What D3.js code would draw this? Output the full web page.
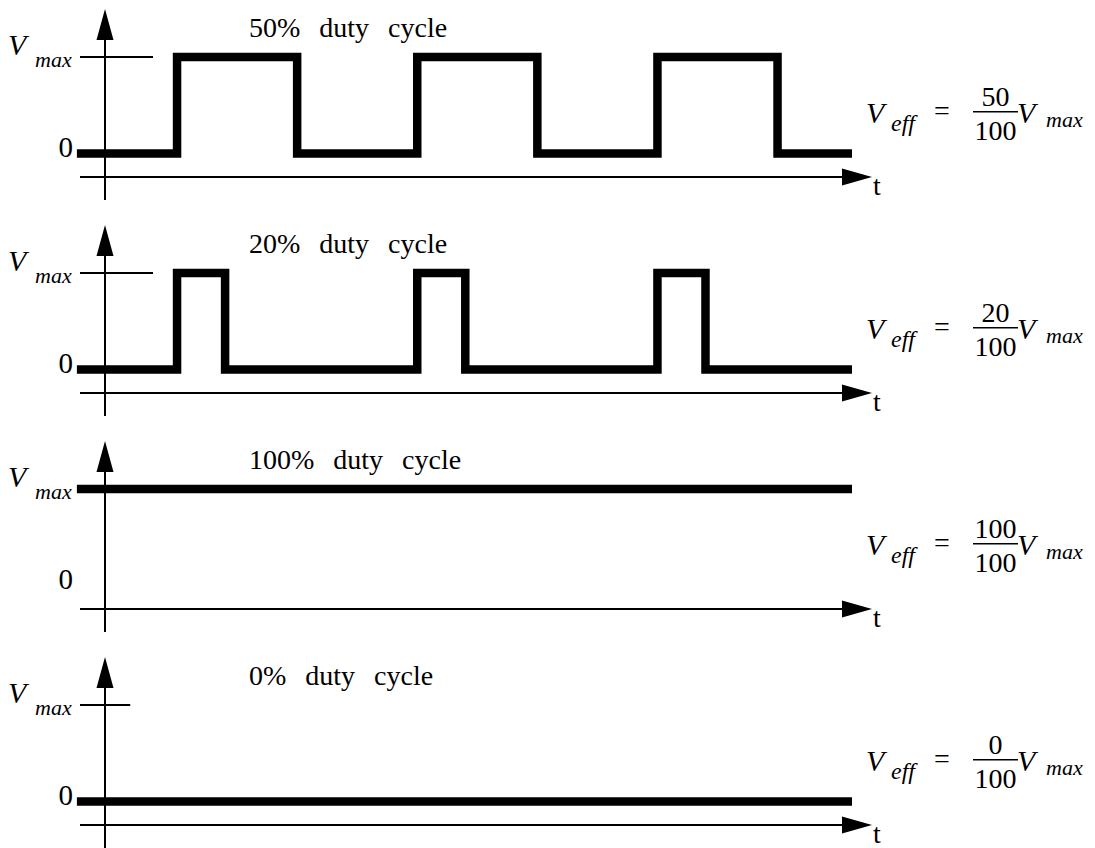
<!DOCTYPE html>
<html>
<head>
<meta charset="utf-8">
<script src="https://cdn.jsdelivr.net/npm/d3@7"></script>
<style>
  html, body { margin: 0; padding: 0; background: #fff; }
  svg { display: block; }
  text { font-family: "Liberation Serif", "Times New Roman", Times, serif; fill: #000; }
</style>
</head>
<body>
<svg id="chart" width="1095" height="848"></svg>
<script>
// ---- data ----
const dutyCycles = [50, 20, 100, 0];
const titles = ["50% duty cycle", "20% duty cycle", "100% duty cycle", "0% duty cycle"];
// switching instants (time units, period = 10) for each panel
const edgeTimes = [
  [3, 8, 13, 18, 23, 28],
  [3, 5, 13, 15, 23, 25],
  [],
  []
];
const startLevels = [0, 0, 1, 0];           // 0 = "0", 1 = "Vmax"
const numerators = ["50", "20", "100", "0"];
const denominator = "100";
const yTickLabels = ["0", "V", "max"];
const timeLabel = "t";
const signalSpan = [-1.17, 31.1];            // time extent of the waveform

// ---- layout ----
const panelStep = 216;
const tickEndT = [2, 2, 2, 1.05];
const svg = d3.select("#chart");

const x = d3.scaleLinear().domain([0, 31.1]).range([105, 852]);

dutyCycles.forEach((duty, i) => {
  const o = i * panelStep;
  const y = d3.scaleLinear().domain([0, 1]).range([153.5 + o, 57 + o]);
  const axisY = 177 + o;
  const g = svg.append("g");

  // Vmax reference tick
  g.append("line")
    .attr("x1", x(-1.04)).attr("x2", x(tickEndT[i]))
    .attr("y1", y(1)).attr("y2", y(1))
    .attr("stroke", "#000").attr("stroke-width", 2);

  // horizontal time axis with arrow
  const tipX = 872, arrowLen = 30, arrowHalf = 8.5;
  g.append("line")
    .attr("x1", x(-1.04)).attr("x2", tipX - arrowLen + 2)
    .attr("y1", axisY).attr("y2", axisY)
    .attr("stroke", "#000").attr("stroke-width", 2);
  g.append("path")
    .attr("d", `M${tipX},${axisY} L${tipX - arrowLen},${axisY - arrowHalf} L${tipX - arrowLen},${axisY + arrowHalf} Z`)
    .attr("fill", "#000");

  // vertical axis with arrow
  const vx = x(0), tipY = 9 + o;
  g.append("line")
    .attr("x1", vx).attr("x2", vx)
    .attr("y1", 200 + o).attr("y2", tipY + arrowLen - 2)
    .attr("stroke", "#000").attr("stroke-width", 2);
  g.append("path")
    .attr("d", `M${vx},${tipY} L${vx - arrowHalf},${tipY + arrowLen + 1} L${vx + arrowHalf},${tipY + arrowLen + 1} Z`)
    .attr("fill", "#000");

  // waveform
  let level = startLevels[i];
  const pts = [[signalSpan[0], level]];
  edgeTimes[i].forEach(t => {
    pts.push([t, level]);
    level = 1 - level;
    pts.push([t, level]);
  });
  pts.push([signalSpan[1], level]);
  const line = d3.line().x(d => x(d[0])).y(d => y(d[1]));
  g.append("path")
    .attr("d", line(pts))
    .attr("fill", "none").attr("stroke", "#000")
    .attr("stroke-width", 8.5)
    .attr("stroke-linejoin", "miter").attr("stroke-linecap", "butt");

  // y labels
  g.append("text").attr("x", 73).attr("y", y(0) + 3.5)
    .attr("text-anchor", "end").attr("font-size", 29).text(yTickLabels[0]);
  g.append("text").attr("x", 8).attr("y", y(1) - 2.5)
    .attr("font-size", 30).attr("font-style", "italic").text(yTickLabels[1]);
  g.append("text").attr("x", 35).attr("y", y(1) + 9.5)
    .attr("font-size", 22).attr("font-style", "italic").text(yTickLabels[2]);

  // title
  g.append("text").attr("x", 249).attr("y", 36.5 + o)
    .attr("font-size", 28).attr("word-spacing", "12px").text(titles[i]);

  // t label
  g.append("text").attr("x", 873).attr("y", 195 + o)
    .attr("font-size", 28).text(timeLabel);

  // formula  V_eff = n/100 V_max
  const fb = 123 + o;
  g.append("text").attr("x", 866).attr("y", fb)
    .attr("font-size", 30).attr("font-style", "italic").text("V");
  g.append("text").attr("x", 891).attr("y", fb + 8)
    .attr("font-size", 24).attr("font-style", "italic").text("eff");
  g.append("text").attr("x", 934).attr("y", fb - 3)
    .attr("font-size", 28).text("=");
  const fx = 995.5;
  g.append("line").attr("x1", 973).attr("x2", 1018)
    .attr("y1", 111.7 + o).attr("y2", 111.7 + o)
    .attr("stroke", "#000").attr("stroke-width", 1.5);
  g.append("text").attr("x", fx).attr("y", 106 + o)
    .attr("text-anchor", "middle").attr("font-size", 28).text(numerators[i]);
  g.append("text").attr("x", fx).attr("y", 140 + o)
    .attr("text-anchor", "middle").attr("font-size", 28).text(denominator);
  g.append("text").attr("x", 1017).attr("y", fb)
    .attr("font-size", 30).attr("font-style", "italic").text("V");
  g.append("text").attr("x", 1046).attr("y", fb + 4)
    .attr("font-size", 22).attr("font-style", "italic").text("max");
});
</script>
</body>
</html>
